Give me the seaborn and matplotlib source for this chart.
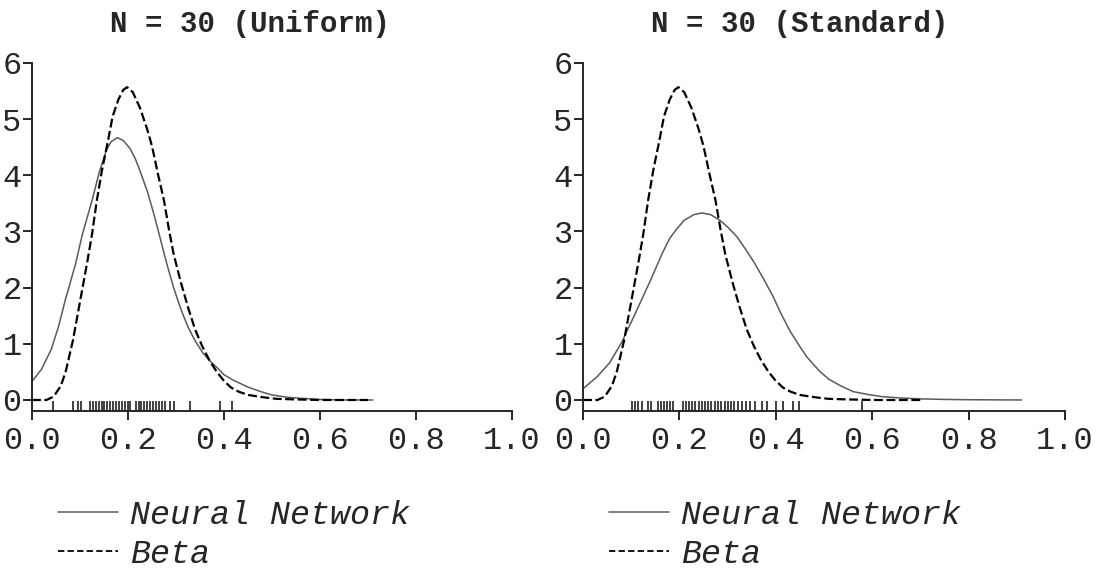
import numpy as np
import pandas as pd
import matplotlib
matplotlib.use("Agg")
import matplotlib.pyplot as plt
import seaborn as sns

# ---- data ----
TITLES = ["N = 30 (Uniform)", "N = 30 (Standard)"]
LEGEND_LABELS = ["Neural Network", "Beta"]
X_TICKS = [0.0, 0.2, 0.4, 0.6, 0.8, 1.0]
X_TICK_LABELS = ["0.0", "0.2", "0.4", "0.6", "0.8", "1.0"]
Y_TICKS = [0, 1, 2, 3, 4, 5, 6]

beta_x = [0.00, 0.03, 0.045, 0.06, 0.07, 0.085, 0.10, 0.115, 0.125, 0.135, 0.146,
          0.158, 0.168, 0.18, 0.19, 0.198, 0.21, 0.225, 0.24, 0.25, 0.263, 0.275,
          0.285, 0.295, 0.31, 0.325, 0.34, 0.355, 0.37, 0.385, 0.40, 0.415, 0.43,
          0.45, 0.48, 0.51, 0.55, 0.60, 0.70]
beta_y = [0.00, 0.00, 0.06, 0.25, 0.50, 1.05, 1.75, 2.45, 2.95, 3.55, 4.10,
          4.60, 5.05, 5.35, 5.52, 5.57, 5.48, 5.20, 4.82, 4.52, 4.00, 3.55,
          3.05, 2.60, 2.10, 1.65, 1.25, 0.95, 0.70, 0.50, 0.34, 0.22, 0.15,
          0.09, 0.05, 0.02, 0.01, 0.00, 0.00]

nn_uniform_x = [0.00, 0.02, 0.04, 0.055, 0.07, 0.09, 0.105, 0.125, 0.14, 0.155,
                0.165, 0.178, 0.19, 0.204, 0.215, 0.225, 0.24, 0.252, 0.265, 0.28,
                0.295, 0.31, 0.325, 0.34, 0.355, 0.37, 0.385, 0.40, 0.42, 0.45,
                0.48, 0.50, 0.53, 0.56, 0.60, 0.65, 0.71]
nn_uniform_y = [0.33, 0.55, 0.90, 1.30, 1.80, 2.40, 2.95, 3.55, 4.05, 4.45,
                4.60, 4.67, 4.62, 4.48, 4.30, 4.08, 3.72, 3.37, 2.95, 2.45,
                2.00, 1.62, 1.30, 1.05, 0.85, 0.70, 0.58, 0.45, 0.35, 0.23,
                0.14, 0.09, 0.05, 0.03, 0.01, 0.00, 0.00]

nn_standard_x = [0.00, 0.03, 0.055, 0.08, 0.11, 0.14, 0.165, 0.18, 0.195, 0.21,
                 0.23, 0.247, 0.265, 0.284, 0.30, 0.32, 0.34, 0.355, 0.375, 0.394,
                 0.41, 0.43, 0.45, 0.465, 0.49, 0.51, 0.535, 0.56, 0.59, 0.62,
                 0.66, 0.70, 0.75, 0.80, 0.91]
nn_standard_y = [0.20, 0.42, 0.66, 1.02, 1.57, 2.13, 2.62, 2.88, 3.05, 3.20,
                 3.30, 3.33, 3.30, 3.20, 3.08, 2.90, 2.65, 2.45, 2.15, 1.85,
                 1.55, 1.22, 0.95, 0.76, 0.52, 0.37, 0.25, 0.15, 0.10, 0.06,
                 0.035, 0.02, 0.01, 0.005, 0.00]

rug_uniform = [0.044, 0.086, 0.095, 0.103, 0.121, 0.127, 0.133, 0.139, 0.145, 0.151,
               0.157, 0.163, 0.169, 0.175, 0.181, 0.187, 0.193, 0.199, 0.205, 0.216,
               0.222, 0.228, 0.234, 0.240, 0.246, 0.252, 0.258, 0.264, 0.270, 0.277,
               0.287, 0.295, 0.329, 0.392, 0.417]
rug_standard = [0.101, 0.108, 0.115, 0.122, 0.135, 0.142, 0.155, 0.162, 0.168, 0.174,
                0.180, 0.187, 0.207, 0.213, 0.219, 0.226, 0.232, 0.240, 0.247, 0.253,
                0.260, 0.266, 0.273, 0.280, 0.287, 0.294, 0.300, 0.307, 0.314, 0.322,
                0.330, 0.338, 0.346, 0.356, 0.372, 0.381, 0.400, 0.415, 0.436, 0.448,
                0.578]

panels = [
    dict(title=TITLES[0], nn_x=nn_uniform_x, nn_y=nn_uniform_y, rug=rug_uniform),
    dict(title=TITLES[1], nn_x=nn_standard_x, nn_y=nn_standard_y, rug=rug_standard),
]

# ---- style ----
sns.set_style("ticks")
MONO = ["Liberation Mono", "DejaVu Sans Mono"]
plt.rcParams["font.family"] = MONO
plt.rcParams["axes.linewidth"] = 1.4
plt.rcParams["xtick.major.width"] = 1.4
plt.rcParams["ytick.major.width"] = 1.4

fig = plt.figure(figsize=(11.07, 5.69), dpi=100)
axes_rects = [
    [32 / 1107, 1 - 411 / 569, 480 / 1107, 348 / 569],
    [583 / 1107, 1 - 411 / 569, 482 / 1107, 348 / 569],
]
title_x = [0.455, 0.45]

for i, (p, rect) in enumerate(zip(panels, axes_rects)):
    ax = fig.add_axes(rect)
    nn_df = pd.DataFrame({"x": p["nn_x"], "y": p["nn_y"]})
    beta_df = pd.DataFrame({"x": beta_x, "y": beta_y})
    sns.lineplot(data=nn_df, x="x", y="y", ax=ax, color="#5a5a5a", linewidth=1.1,
                 estimator=None, sort=False, label=LEGEND_LABELS[0])
    sns.lineplot(data=beta_df, x="x", y="y", ax=ax, color="black", linewidth=1.6,
                 estimator=None, sort=False, label=LEGEND_LABELS[1],
                 dashes=False)
    ax.lines[-1].set_dashes((4.0, 1.6))
    sns.rugplot(x=p["rug"], ax=ax, height=0.03, color="#333333", linewidth=1.3)

    ax.set_xlim(0, 1)
    ax.set_ylim(-0.196, 6)
    ax.set_xticks(X_TICKS)
    ax.set_xticklabels(X_TICK_LABELS)
    ax.set_yticks(Y_TICKS)
    ax.set_xlabel("")
    ax.set_ylabel("")
    ax.tick_params(axis="x", length=6.5, pad=4, labelsize=23, direction="out")
    ax.tick_params(axis="y", length=6.5, pad=1, labelsize=23, direction="out")
    sns.despine(ax=ax)
    ax.set_title(p["title"], x=title_x[i], pad=22, fontsize=21, fontweight="bold",
                 family=MONO)

    leg = ax.legend(loc="upper left", bbox_to_anchor=(0.054, -0.256),
                    frameon=False, borderpad=0, borderaxespad=0,
                    handlelength=1.8, handletextpad=0.36, labelspacing=0.23,
                    prop=dict(family=MONO, style="italic", size=24))
    for line in leg.get_lines():
        line.set_linewidth(1.3)
    leg.get_lines()[0].set_color("#777777")
    leg.get_lines()[1].set_dashes((3.5, 1.8))

fig.savefig("out.png", dpi=100)
